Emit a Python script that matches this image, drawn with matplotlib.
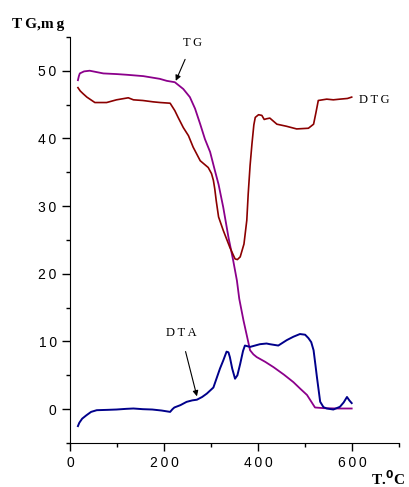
import matplotlib
matplotlib.use('Agg')
import matplotlib.pyplot as plt
from matplotlib.ticker import MultipleLocator, FuncFormatter

# TG curve (mg)
tg_t = [17, 19, 21, 30, 42, 71, 100, 121, 156, 191, 206, 223, 241, 255, 266, 277, 287, 298,
        308, 316, 326, 337, 347, 355, 360, 369, 376, 383, 390, 397, 415, 433, 455, 475, 490,
        504, 521, 540, 570, 599]
tg_w = [48.6, 49.2, 49.6, 49.9, 50.0, 49.6, 49.5, 49.4, 49.2, 48.8, 48.5, 48.3, 47.3, 46.1,
        44.4, 42.1, 39.9, 38.0, 35.3, 33.2, 29.8, 25.4, 22.0, 19.0, 16.3, 13.1, 10.9, 8.7,
        8.1, 7.7, 7.0, 6.2, 5.1, 4.0, 3.0, 2.1, 0.25, 0.15, 0.1, 0.1]

# DTG curve
dtg_t = [17, 22, 28, 36, 53, 78, 99, 124, 135, 155, 177, 192, 213, 223, 230, 241, 252, 262,
         277, 294, 301, 305, 308, 311, 316, 326, 340, 351, 356, 362, 370, 376, 379, 383, 387,
         391, 394, 401, 408, 413, 418, 425, 440, 460, 482, 507, 518, 523, 528, 546, 560, 574,
         590, 599]
dtg_v = [47.5, 47.0, 46.6, 46.1, 45.3, 45.3, 45.7, 46.0, 45.7, 45.6, 45.4, 45.3, 45.2, 44.1,
         43.1, 41.6, 40.4, 38.7, 36.7, 35.7, 34.8, 33.8, 32.5, 30.8, 28.4, 26.4, 23.9, 22.2,
         22.1, 22.5, 24.4, 27.9, 31.8, 36.0, 39.2, 42.0, 43.1, 43.5, 43.4, 42.8, 42.9, 43.0,
         42.1, 41.8, 41.4, 41.5, 42.1, 43.8, 45.6, 45.8, 45.7, 45.8, 45.9, 46.1]

# DTA curve
dta_t = [17, 20, 26, 35, 45, 57, 80, 99, 120, 135, 155, 175, 195, 213, 218, 222, 235, 248, 260,
         270, 281, 291, 305, 312, 319, 326, 333, 337, 340, 345, 351, 356, 362, 368, 372, 383,
         404, 418, 425, 443, 461, 475, 489, 500, 507, 513, 518, 522, 525, 532, 539, 546, 560,
         574, 582, 589, 594, 599]
dta_v = [-2.5, -2.0, -1.4, -0.9, -0.4, -0.15, -0.1, -0.05, 0.05, 0.1, 0.0, -0.05, -0.2, -0.4,
         0.0, 0.25, 0.6, 1.08, 1.3, 1.4, 1.8, 2.3, 3.2, 4.6, 6.0, 7.2, 8.5, 8.4, 7.7, 6.0, 4.5,
         5.0, 6.7, 8.6, 9.4, 9.2, 9.6, 9.7, 9.6, 9.4, 10.2, 10.7, 11.1, 11.0, 10.5, 9.9, 8.7,
         6.5, 4.8, 1.1, 0.3, 0.1, -0.05, 0.35, 1.0, 1.8, 1.3, 0.9]

plt.rcParams['lines.solid_joinstyle'] = 'round'

fig = plt.figure(figsize=(4.09, 4.87), dpi=100)
ax = fig.add_axes([0.171, 0.0903, 0.805, 0.834])

ax.plot(tg_t, tg_w, color='#8B008B', lw=1.3)
ax.plot(dtg_t, dtg_v, color='#8B0000', lw=1.2)
ax.plot(dta_t, dta_v, color='#00008B', lw=1.4)

ax.set_xlim(0, 700)
ax.set_ylim(-5, 55)
ax.xaxis.set_major_locator(MultipleLocator(200))
ax.xaxis.set_minor_locator(MultipleLocator(100))
ax.set_yticks([0, 10, 20, 30, 40, 50])
ax.yaxis.set_minor_locator(MultipleLocator(5))

# spaced digits like the original
spaced = FuncFormatter(lambda v, p: '\u2009'.join(str(int(v))))
ax.xaxis.set_major_formatter(spaced)
ax.yaxis.set_major_formatter(spaced)
ax.tick_params(which='major', direction='out', length=6, width=1,
               labelsize=10, labelfontfamily='Liberation Sans')
ax.tick_params(which='minor', direction='out', length=3, width=1)
for s in ['top', 'right']:
    ax.spines[s].set_visible(False)

serif = 'Liberation Serif'
ax.annotate('T\u2009G', xy=(225, 48.5), xytext=(260, 54.1), fontsize=9, family=serif,
            ha='center', va='center', annotation_clip=False,
            arrowprops=dict(arrowstyle='-|>', color='black', lw=0.8, mutation_scale=8,
                            shrinkA=6, shrinkB=0))
ax.annotate('D\u2009T\u2009A', xy=(270, 1.9), xytext=(236, 11.2), fontsize=9, family=serif,
            ha='center', va='center',
            arrowprops=dict(arrowstyle='-|>', color='black', lw=0.8, mutation_scale=8,
                            shrinkA=7, shrinkB=0))
ax.text(615, 45.6, 'D\u2009T\u2009G', fontsize=9, family=serif, ha='left', va='center')

fig.text(0.03, 0.949, 'T\u2009G,m\u2009g', fontsize=11, fontweight='bold', family=serif,
         ha='left', va='center')
fig.text(0.99, 0.018, 'T.$^{\\mathbf{0}}$C', fontsize=11, fontweight='bold', family=serif,
         ha='right', va='center')

fig.savefig('out.png', dpi=100)
